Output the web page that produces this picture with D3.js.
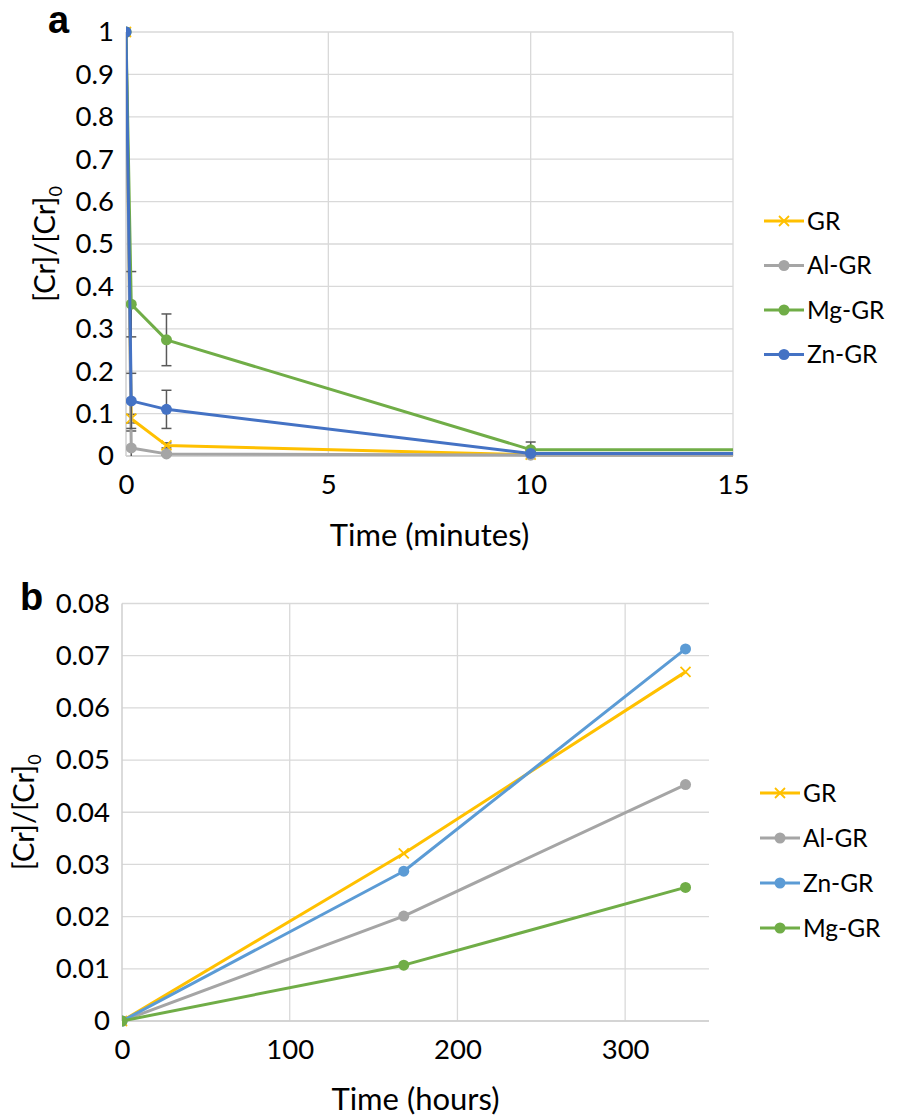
<!DOCTYPE html>
<html><head><meta charset="utf-8">
<script src="https://cdn.jsdelivr.net/npm/d3@7"></script>
<style>
html,body{margin:0;padding:0;background:#fff;}
text{font-family:Lato,"Open Sans",sans-serif;fill:#000;}
</style></head>
<body>
<svg id="chart" width="898" height="1120"></svg>
<script>
// ---------- Panel a data (time in minutes) ----------
const timeA = [0, 0.13, 1, 10, 60];
const grA   = [1, 0.088, 0.025, 0.003, 0.002];
const alA   = [1, 0.019, 0.005, 0.002, 0.001];
const mgA   = [1, 0.358, 0.274, 0.015, 0.012];
const znA   = [1, 0.130, 0.110, 0.006, 0.006];
const grErrA = [0, 0.010, 0.006, 0.002, 0];
const alErrA = [0, 0.040, 0.003, 0.001, 0];
const mgErrA = [0, 0.077, 0.061, 0.018, 0];
const znErrA = [0, 0.065, 0.045, 0.003, 0];
const xTicksA = [0, 5, 10, 15];
const yTicksA = [0, 0.1, 0.2, 0.3, 0.4, 0.5, 0.6, 0.7, 0.8, 0.9, 1];
const yTickLabelsA = ["0","0.1","0.2","0.3","0.4","0.5","0.6","0.7","0.8","0.9","1"];

// ---------- Panel b data (time in hours) ----------
const timeB = [0, 168, 336];
const grB   = [0, 0.0321, 0.0669];
const alB   = [0, 0.0201, 0.0453];
const znB   = [0, 0.0287, 0.0713];
const mgB   = [0, 0.0107, 0.0256];
const xTicksB = [0, 100, 200, 300];
const yTicksB = [0, 0.01, 0.02, 0.03, 0.04, 0.05, 0.06, 0.07, 0.08];
const yTickLabelsB = ["0","0.01","0.02","0.03","0.04","0.05","0.06","0.07","0.08"];

const C = {gr:"#FFC000", al:"#A5A5A5", mg:"#70AD47", znA:"#4472C4", znB:"#5B9BD5"};

const svg = d3.select("#chart");
const FS = 27.5;

function panel(cfg){
  const g = svg.append("g");
  const x = d3.scaleLinear().domain(cfg.xDomain).range([cfg.left, cfg.right]);
  const y = d3.scaleLinear().domain(cfg.yDomain).range([cfg.bottom, cfg.top]);
  const clipId = "clip" + cfg.id;
  svg.append("defs").append("clipPath").attr("id", clipId)
    .append("rect").attr("x", cfg.left).attr("y", cfg.top - 8)
    .attr("width", cfg.right - cfg.left).attr("height", cfg.bottom - cfg.top + 16);

  // gridlines
  g.selectAll(".hg").data(cfg.yTicks).enter().append("line")
    .attr("x1", cfg.left).attr("x2", cfg.right)
    .attr("y1", d => y(d)).attr("y2", d => y(d))
    .attr("stroke", "#d9d9d9").attr("stroke-width", 1.3);
  g.selectAll(".vg").data(cfg.xTicks.filter(d => d > cfg.xDomain[0])).enter().append("line")
    .attr("x1", d => x(d)).attr("x2", d => x(d))
    .attr("y1", cfg.top).attr("y2", cfg.bottom)
    .attr("stroke", "#d9d9d9").attr("stroke-width", 1.3);
  // axis lines
  g.append("line").attr("x1", cfg.left).attr("x2", cfg.left).attr("y1", cfg.top).attr("y2", cfg.bottom)
    .attr("stroke", "#cfcfcf").attr("stroke-width", 1.5);
  g.append("line").attr("x1", cfg.left).attr("x2", cfg.right).attr("y1", cfg.bottom).attr("y2", cfg.bottom)
    .attr("stroke", "#cfcfcf").attr("stroke-width", 1.5);

  // axes via d3 (labels only)
  const yAxis = d3.axisLeft(y).tickValues(cfg.yTicks).tickFormat((d,i) => cfg.yLabels[i]).tickSize(0).tickPadding(cfg.yPad);
  const ya = g.append("g").attr("transform", `translate(${cfg.left},0)`).call(yAxis);
  ya.select(".domain").remove();
  ya.selectAll("text").attr("font-size", FS).style("font-family", "Lato").attr("fill", "#000");
  const xAxis = d3.axisBottom(x).tickValues(cfg.xTicks).tickSize(0).tickPadding(cfg.xPad);
  const xa = g.append("g").attr("transform", `translate(0,${cfg.bottom})`).call(xAxis);
  xa.select(".domain").remove();
  xa.selectAll("text").attr("font-size", FS).style("font-family", "Lato").attr("fill", "#000");

  // series
  const plot = g.append("g").attr("clip-path", `url(#${clipId})`);
  const line = d3.line().x(d => x(d[0])).y(d => y(d[1]));
  cfg.series.forEach(s => {
    const pts = cfg.time.map((t,i) => [t, s.values[i], s.err ? s.err[i] : 0]);
    // error bars
    if (s.err) {
      pts.filter(p => p[2] > 0 && p[0] <= cfg.xDomain[1]).forEach(p => {
        const top = y(p[1] + p[2]), bot = y(Math.max(0, p[1] - p[2]));
        const eb = plot.append("g").attr("stroke", "#595959").attr("stroke-width", 1.5);
        eb.append("line").attr("x1", x(p[0])).attr("x2", x(p[0])).attr("y1", top).attr("y2", bot);
        eb.append("line").attr("x1", x(p[0]) - 5).attr("x2", x(p[0]) + 5).attr("y1", top).attr("y2", top);
        if (p[1] - p[2] > 0) eb.append("line").attr("x1", x(p[0]) - 5).attr("x2", x(p[0]) + 5).attr("y1", bot).attr("y2", bot);
      });
    }
    plot.append("path").datum(pts).attr("d", line).attr("fill", "none")
      .attr("stroke", s.color).attr("stroke-width", 3).attr("stroke-linejoin", "round");
    const vis = pts.filter(p => p[0] <= cfg.xDomain[1]);
    if (s.marker === "x") {
      vis.forEach(p => {
        const cx = x(p[0]), cy = y(p[1]), r = 5;
        plot.append("path").attr("d", `M${cx-r},${cy-r}L${cx+r},${cy+r}M${cx-r},${cy+r}L${cx+r},${cy-r}`)
          .attr("stroke", s.color).attr("stroke-width", 1.8);
      });
    } else {
      plot.selectAll(null).data(vis).enter().append("circle")
        .attr("cx", p => x(p[0])).attr("cy", p => y(p[1])).attr("r", 5.5).attr("fill", s.color);
    }
  });

  // legend
  cfg.legendOrder.forEach((s, i) => {
    const ly = cfg.legendY + i * cfg.legendStep;
    const lg = g.append("g");
    lg.append("line").attr("x1", cfg.legendX).attr("x2", cfg.legendX + 40).attr("y1", ly).attr("y2", ly)
      .attr("stroke", s.color).attr("stroke-width", 3);
    const mx = cfg.legendX + 20;
    if (s.marker === "x") {
      lg.append("path").attr("d", `M${mx-5},${ly-5}L${mx+5},${ly+5}M${mx-5},${ly+5}L${mx+5},${ly-5}`)
        .attr("stroke", s.color).attr("stroke-width", 1.8);
    } else {
      lg.append("circle").attr("cx", mx).attr("cy", ly).attr("r", 5.5).attr("fill", s.color);
    }
    lg.append("text").attr("x", cfg.legendX + 43).attr("y", ly).attr("dy", "0.36em")
      .attr("font-size", 24.5).text(s.name);
  });

  // axis titles
  g.append("text").attr("x", (cfg.left + cfg.right) / 2).attr("y", cfg.xTitleY)
    .attr("text-anchor", "middle").attr("font-size", 31).text(cfg.xTitle);
  const yt = g.append("text").attr("transform", `translate(${cfg.yTitleX},${(cfg.top + cfg.bottom) / 2}) rotate(-90)`)
    .attr("text-anchor", "middle").attr("font-size", 29);
  yt.append("tspan").text("[Cr]/[Cr]");
  yt.append("tspan").attr("font-size", 18).attr("dy", 7).text("0");

  // panel letter
  g.append("text").attr("x", cfg.letterX).attr("y", cfg.letterY).attr("font-size", 38)
    .attr("font-weight", "bold").style("font-family", "Liberation Sans, Arial").text(cfg.letter);
}

const sGR = {name:"GR", color:C.gr, marker:"x"};
const sAl = {name:"Al-GR", color:C.al, marker:"o"};
const sMg = {name:"Mg-GR", color:C.mg, marker:"o"};

panel({
  id:"a", left:126, right:733, top:32, bottom:456,
  xDomain:[0,15], yDomain:[0,1], xTicks:xTicksA, yTicks:yTicksA, yLabels:yTickLabelsA,
  yPad:12, xPad:18, time:timeA,
  series:[
    Object.assign({}, sGR, {values:grA, err:grErrA}),
    Object.assign({}, sAl, {values:alA, err:alErrA}),
    Object.assign({}, sMg, {values:mgA, err:mgErrA}),
    {name:"Zn-GR", color:C.znA, marker:"o", values:znA, err:znErrA}
  ],
  legendOrder:[sGR, sAl, sMg, {name:"Zn-GR", color:C.znA, marker:"o"}],
  legendX:764, legendY:221, legendStep:44.5,
  xTitle:"Time (minutes)", xTitleY:546, yTitleX:55,
  letter:"a", letterX:48, letterY:33
});

panel({
  id:"b", left:122, right:709, top:603.5, bottom:1021,
  xDomain:[0,350], yDomain:[0,0.08], xTicks:xTicksB, yTicks:yTicksB, yLabels:yTickLabelsB,
  yPad:12, xPad:18, time:timeB,
  series:[
    Object.assign({}, sGR, {values:grB}),
    Object.assign({}, sAl, {values:alB}),
    {name:"Zn-GR", color:C.znB, marker:"o", values:znB},
    Object.assign({}, sMg, {values:mgB})
  ],
  legendOrder:[sGR, sAl, {name:"Zn-GR", color:C.znB, marker:"o"}, sMg],
  legendX:760, legendY:793, legendStep:45,
  xTitle:"Time (hours)", xTitleY:1110, yTitleX:34,
  letter:"b", letterX:20, letterY:610
});
</script>
</body></html>
